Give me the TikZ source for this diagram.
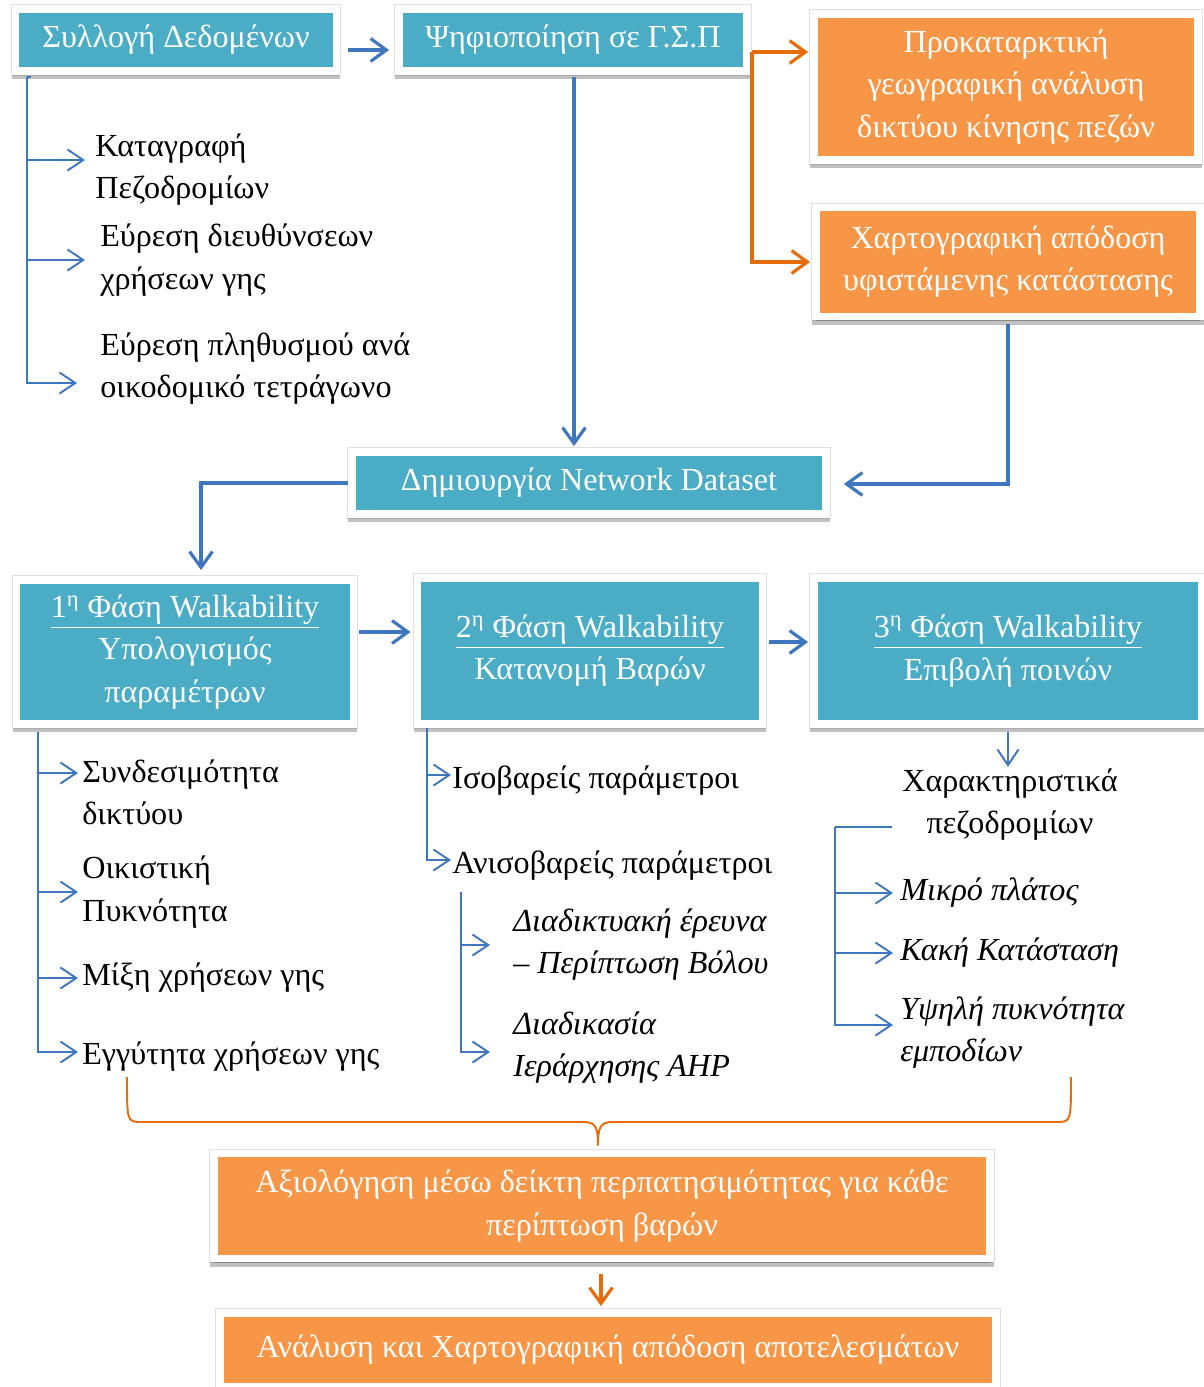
\documentclass[tikz,border=0pt]{standalone}
\usepackage{fontspec}
\setmainfont{Liberation Serif}
\usetikzlibrary{arrows.meta,calc,shadows}

\definecolor{boxteal}{HTML}{4BACC6}
\definecolor{boxorange}{HTML}{F79646}
\definecolor{linkblue}{HTML}{3F77BE}
\definecolor{linkorange}{HTML}{E46C0A}

\begin{document}
\begin{tikzpicture}[x=0.02cm, y=-0.02cm,
  font=\fontsize{18.3}{24}\selectfont,
  box/.style = {draw=white, line width=4.5pt, text=white,
    align=center, inner sep=0pt,
    preaction={draw=black!12, line width=5.6pt},
    drop shadow={shadow xshift=0pt, shadow yshift=-2.5pt,
      opacity=0.3, fill=black!80, draw=black!80, line width=4.5pt}},
  tealbox/.style = {box, fill=boxteal},
  orangebox/.style = {box, fill=boxorange},
  item/.style = {anchor=west, align=left, inner sep=0pt},
  itemit/.style = {item, font=\fontsize{18.3}{24}\selectfont\itshape},
  bluelink/.style = {draw=linkblue, line width=1.8pt,
    -{Straight Barb[length=9pt,width=13pt]}},
  bluetree/.style = {draw=linkblue, line width=1.1pt,
    -{Straight Barb[length=9pt,width=12pt]}},
  orangelink/.style = {draw=linkorange, line width=1.8pt,
    -{Straight Barb[length=9pt,width=13pt]}},
  bracestyle/.style = {draw=linkorange, line width=1.1pt}]

  \useasboundingbox (0,0) rectangle (1204,1387);

  \node[tealbox, minimum width=6.42cm, minimum height=1.24cm] (syl) at (176,40) {Συλλογή Δεδομένων};
  \node[tealbox, minimum width=6.96cm, minimum height=1.24cm] (psi) at (573,40) {Ψηφιοποίηση σε Γ.Σ.Π};
  \node[orangebox, minimum width=7.68cm, minimum height=2.92cm] (prok) at (1006,87)
    {Προκαταρκτική\\γεωγραφική ανάλυση\\δικτύου κίνησης πεζών};
  \node[orangebox, minimum width=7.68cm, minimum height=2.18cm] (xart) at (1008,262)
    {Χαρτογραφική απόδοση\\υφιστάμενης κατάστασης};
  \node[tealbox, minimum width=9.48cm, minimum height=1.24cm] (net) at (589,483) {Δημιουργία Network Dataset};
  \node[tealbox, minimum width=6.74cm, minimum height=2.88cm] (ph1) at (185,652)
    {\underline{1\textsuperscript{η} Φάση Walkability}\\Υπολογισμός\\παραμέτρων};
  \node[tealbox, minimum width=6.9cm, minimum height=2.92cm] (ph2) at (590,651)
    {\underline{2\textsuperscript{η} Φάση Walkability}\\Κατανομή Βαρών};
  \node[tealbox, minimum width=7.76cm, minimum height=2.92cm] (ph3) at (1008,651)
    {\underline{3\textsuperscript{η} Φάση Walkability}\\Επιβολή ποινών};
  \node[orangebox, minimum width=15.54cm, minimum height=2.1cm] (axi) at (602,1206)
    {Αξιολόγηση μέσω δείκτη περπατησιμότητας για κάθε\\περίπτωση βαρών};
  \node[orangebox, minimum width=15.54cm, minimum height=1.48cm] (ana) at (608,1350)
    {Ανάλυση και Χαρτογραφική απόδοση αποτελεσμάτων};

  \node[item] (kat) at (95,170) {Καταγραφή\\Πεζοδρομίων};
  \node[item] (eur1) at (100,260) {Εύρεση διευθύνσεων\\χρήσεων γης};
  \node[item] (eur2) at (100,369) {Εύρεση πληθυσμού ανά\\οικοδομικό τετράγωνο};

  \node[item] (syn) at (82,792) {Συνδεσιμότητα\\δικτύου};
  \node[item] (oik) at (82,892) {Οικιστική\\Πυκνότητα};
  \node[item] (mix) at (82,978) {Μίξη χρήσεων γης};
  \node[item] (egg) at (82,1057) {Εγγύτητα χρήσεων γης};

  \node[item] (isob) at (452,781) {Ισοβαρείς παράμετροι};
  \node[item] (anis) at (452,866) {Ανισοβαρείς παράμετροι};
  \node[itemit] (dia) at (513,945) {Διαδικτυακή έρευνα\\– Περίπτωση Βόλου};
  \node[itemit] (ahp) at (513,1048) {Διαδικασία\\Ιεράρχησης AHP};

  \node[align=center, inner sep=0pt] (char) at (1010,805) {Χαρακτηριστικά\\πεζοδρομίων};
  \node[itemit] (mik) at (900,893) {Μικρό πλάτος};
  \node[itemit] (kak) at (900,953) {Κακή Κατάσταση};
  \node[itemit] (ypsi) at (900,1033) {Υψηλή πυκνότητα\\εμποδίων};

  \draw[bluelink] ($(syl.east)+(8,10)$) -- ($(syl.east -| psi.west)+(-6,10)$);
  \draw[bluelink] ($(psi.south)+(1,2)$) -- ($(psi.south |- net.north)+(1,-2)$);
  \draw[bluelink] ($(xart.south)+(0,4)$) |- ($(net.east)+(14,1)$);
  \draw[bluelink] (net.west) -| ($(ph1.north)+(16,-6)$);
  \draw[bluelink] ($(ph1.east)+(2,-20)$) -- ($(ph1.east -| ph2.west)+(-3,-20)$);
  \draw[bluelink] ($(ph2.east)+(3,-9)$) -- ($(ph2.east -| ph3.west)+(-2,-9)$);

  \coordinate (psr) at ($(psi.east)+(1,12)$);
  \draw[orangelink] (psr) -- ($(psr -| prok.west)+(-2,0)$);
  \draw[orangelink] (psr) |- ($(xart.west)+(-2,0)$);
  \draw[orangelink] ($(axi.south)+(-1,12)$) -- ($(axi.south |- ana.north)+(-1,-3)$);

  \coordinate (sp0) at ($(syl.south west)+(15,2)$);
  \draw[draw=linkblue, line width=1.1pt] ($(sp0)+(4,0)$) -- (sp0);
  \draw[bluetree] (sp0) |- ($(kat.west)+(-10,-10)$);
  \draw[bluetree] (sp0) |- ($(eur1.west)+(-15,0)$);
  \draw[bluetree] (sp0) |- ($(eur2.west)+(-23,14)$);

  \coordinate (sp1) at ($(ph1.south west)+(25,4)$);
  \draw[bluetree] (sp1) |- ($(syn.west)+(-4,-19)$);
  \draw[bluetree] (sp1) |- ($(oik.west)+(-4,0)$);
  \draw[bluetree] (sp1) |- ($(mix.west)+(-4,0)$);
  \draw[bluetree] (sp1) |- ($(egg.west)+(-4,-5)$);

  \coordinate (sp2) at ($(ph2.south west)+(13,0)$);
  \draw[bluetree] (sp2) |- ($(isob.west)+(-1,-6)$);
  \draw[bluetree] (sp2) |- ($(anis.west)+(-1,-6)$);
  \coordinate (sp3) at ($(anis.west)+(9,26)$);
  \draw[bluetree] (sp3) |- ($(dia.west)+(-23,0)$);
  \draw[bluetree] (sp3) |- ($(ahp.west)+(-23,4)$);

  \draw[bluetree] ($(ph3.south)+(0,4)$) -- ($(ph3.south)+(0,39)$);
  \draw[draw=linkblue, line width=1.1pt] ($(char.west)+(-10,22)$) -- ++(-57,0) coordinate (sp4);
  \draw[bluetree] (sp4) |- ($(mik.west)+(-7,0)$);
  \draw[bluetree] (sp4) |- ($(kak.west)+(-7,0)$);
  \draw[bluetree] (sp4) |- ($(ypsi.west)+(-7,-8)$);

  \coordinate (bl) at (127,1077);
  \coordinate (br) at (1071,1077);
  \coordinate (tip) at ($(axi.north)+(-4,-4)$);
  \draw[bracestyle] (bl) .. controls (127,1122) and (127,1122) .. (142,1122)
    -- (584,1122) .. controls (596,1122) and (598,1128) .. (tip)
    .. controls (598,1128) and (600,1122) .. (612,1122)
    -- (1056,1122) .. controls (1071,1122) and (1071,1122) .. (br);
\end{tikzpicture}
\end{document}
